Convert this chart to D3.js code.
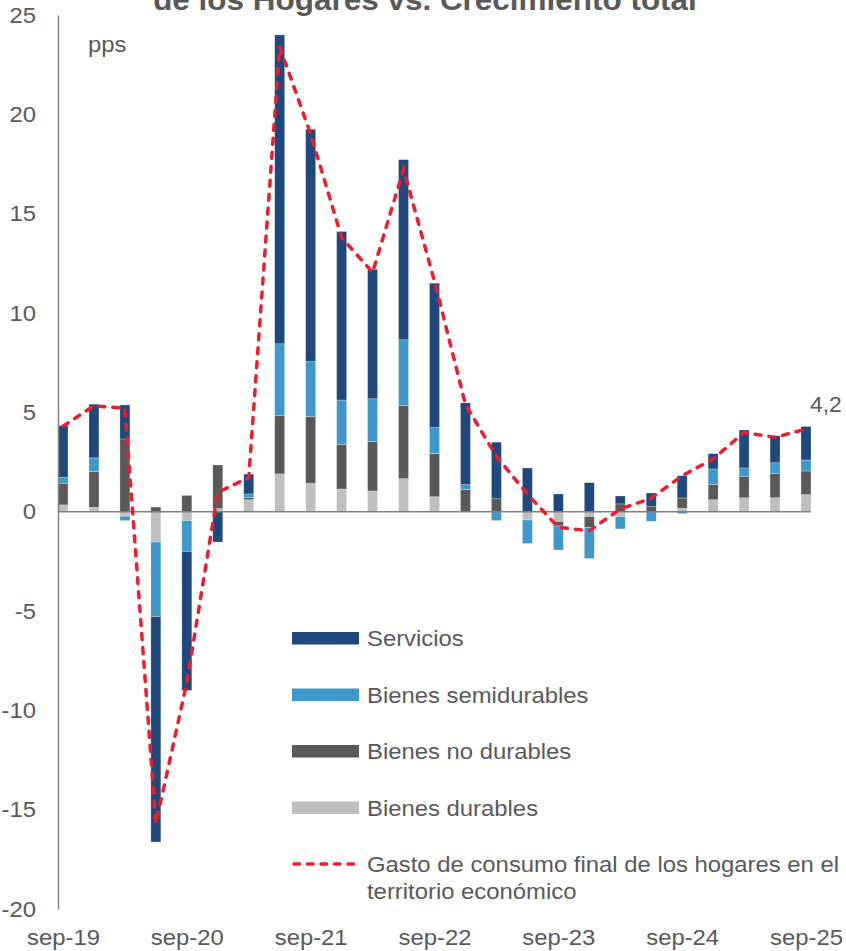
<!DOCTYPE html>
<html>
<head>
<meta charset="utf-8">
<script src="https://cdn.jsdelivr.net/npm/d3@7"></script>
<style>
  html, body { margin: 0; padding: 0; background: #fff; }
  svg { display: block; font-family: "Liberation Sans", Arial, sans-serif; }
</style>
</head>
<body>
<svg id="chart" width="846" height="951"></svg>
<script>

var quarters = ['sep-19','dic-19','mar-20','jun-20','sep-20','dic-20','mar-21','jun-21','sep-21','dic-21',
                'mar-22','jun-22','sep-22','dic-22','mar-23','jun-23','sep-23','dic-23','mar-24','jun-24',
                'sep-24','dic-24','mar-25','jun-25','sep-25'];

var durables    = [0.34, 0.22, -0.23, -1.53, -0.45, 0.15, 0.60, 1.90, 1.43, 1.14, 1.04, 1.66, 0.75,
                   0.00, 0.00, -0.42, -0.49, -0.25, -0.25, 0.00, 0.17, 0.60, 0.70, 0.70, 0.86];
var noDurables  = [1.09, 1.80, 3.66, 0.23, 0.82, 2.20, 0.12, 2.95, 3.37, 2.25, 2.50, 3.67, 2.18,
                   1.12, 0.65, 0.00, -0.23, -0.55, 0.39, 0.25, 0.52, 0.77, 1.06, 1.23, 1.19];
var semidurables= [0.30, 0.69, -0.22, -3.75, -1.55, 0.00, 0.17, 3.60, 2.75, 2.23, 2.14, 3.32, 1.30,
                   0.24, -0.45, -1.18, -1.21, -1.56, -0.62, -0.49, -0.10, 0.78, 0.44, 0.53, 0.55];
var servicios   = [2.60, 2.70, 1.71, -11.35, -7.00, -1.53, 1.00, 15.55, 11.70, 8.48, 6.52, 9.07, 7.27,
                   4.12, 2.85, 2.20, 0.89, 1.46, 0.40, 0.69, 1.12, 0.77, 1.91, 1.36, 1.69];
var gastoTotal  = [4.3, 5.33, 5.2, -15.7, -8.6, 0.97, 1.72, 23.4, 19.0, 13.8, 12.04, 17.24, 11.6,
                   5.4, 2.78, 0.89, -0.79, -0.96, 0.13, 0.68, 1.81, 2.65, 3.99, 3.74, 4.16];

var yTicks = [25, 20, 15, 10, 5, 0, -5, -10, -15, -20];
var xTickLabels = ['sep-19','sep-20','sep-21','sep-22','sep-23','sep-24','sep-25'];

var series = [
  { key: 'durables',     name: 'Bienes durables',     color: '#bfbfbf', values: durables },
  { key: 'noDurables',   name: 'Bienes no durables',  color: '#595959', values: noDurables },
  { key: 'semidurables', name: 'Bienes semidurables', color: '#3e98cc', values: semidurables },
  { key: 'servicios',    name: 'Servicios',           color: '#1f497d', values: servicios }
];

var title = 'de los Hogares vs. Crecimiento total';
var lineName = ['Gasto de consumo final de los hogares en el', 'territorio económico'];
var lineColor = '#ee1c2e',
    textColor = '#595959',
    axisColor = '#808080',
    bar_width = 10,
    stretch = 1.085;

// the source picture is a little wider than tall, so text is widened around its anchor
function widen(sel, sx) {
  sel.attr('transform', function() {
    var t = d3.select(this),
        tx = +t.attr('x') || 0,
        ty = +t.attr('y') || 0;
    return 'translate(' + tx + ',' + ty + ') scale(' + sx + ',1) translate(' + (-tx) + ',' + (-ty) + ')';
  });
}

var svg = d3.select('#chart');

var x = d3.scalePoint().domain(quarters).range([63, 806]),
    y = d3.scaleLinear().domain([-20, 25]).range([909, 15]);

// one row per quarter for d3.stack
var rows = quarters.map(function(q, i) {
  var r = { q: q };
  series.forEach(function(s) { r[s.key] = s.values[i]; });
  return r;
});

var stacked = d3.stack()
  .keys(series.map(function(s) { return s.key; }))
  .offset(d3.stackOffsetDiverging)(rows);

// title (cut off by the top of the frame)
svg.append('text')
  .attr('x', 425).attr('y', 10)
  .attr('text-anchor', 'middle')
  .attr('font-size', 29).attr('font-weight', 'bold')
  .attr('fill', textColor)
  .text(title)
  .call(widen, stretch);

// bars
svg.append('g').selectAll('g')
  .data(stacked)
  .join('g')
    .attr('fill', function(d, i) { return series[i].color; })
  .selectAll('rect')
  .data(function(d) { return d; })
  .join('rect')
    .attr('x', function(d) { return x(d.data.q) - bar_width / 2; })
    .attr('y', function(d) { return y(Math.max(d[0], d[1])); })
    .attr('width', bar_width)
    .attr('height', function(d) { return Math.abs(y(d[0]) - y(d[1])); })
    .attr('stroke', 'rgba(255,255,255,0.45)')
    .attr('stroke-width', 0.6);

// zero line
svg.append('line')
  .attr('x1', 58).attr('x2', x(quarters[quarters.length - 1]) + bar_width / 2)
  .attr('y1', y(0)).attr('y2', y(0))
  .attr('stroke', axisColor).attr('stroke-width', 1.5);

// y axis
var yAxis = d3.axisLeft(y).tickValues(yTicks).tickSize(0).tickPadding(22)
  .tickFormat(function(d) { return d; });

var gy = svg.append('g').attr('transform', 'translate(58,0)').call(yAxis);
gy.select('.domain').attr('stroke', axisColor).attr('stroke-width', 1.5);
gy.selectAll('text')
  .attr('font-size', 22).attr('fill', textColor)
  .attr('font-family', '"Liberation Sans", Arial, sans-serif')
  .call(widen, stretch);

svg.append('text')
  .attr('x', 88).attr('y', 52)
  .attr('font-size', 22).attr('fill', textColor)
  .text('pps')
  .call(widen, stretch);

// x axis labels
var xAxis = d3.axisBottom(x).tickValues(xTickLabels).tickSize(0).tickPadding(0);
var gx = svg.append('g').attr('transform', 'translate(0,929)').call(xAxis);
gx.select('.domain').remove();
gx.selectAll('text')
  .attr('font-size', 22).attr('fill', textColor)
  .attr('font-family', '"Liberation Sans", Arial, sans-serif')
  .call(widen, stretch);

// total line
var line = d3.line()
  .x(function(d, i) { return x(quarters[i]); })
  .y(function(d) { return y(d); });

svg.append('path')
  .datum(gastoTotal)
  .attr('d', line)
  .attr('fill', 'none')
  .attr('stroke', lineColor)
  .attr('stroke-width', 3.5)
  .attr('stroke-linecap', 'round')
  .attr('stroke-dasharray', '6,8');

var last = gastoTotal.length - 1;
svg.append('text')
  .attr('x', x(quarters[last]) + 4).attr('y', y(gastoTotal[last]) - 17)
  .attr('font-size', 22).attr('fill', textColor)
  .text(d3.format('.1f')(gastoTotal[last]).replace('.', ','))
  .call(widen, 1.04);

// legend
var legend = svg.append('g').attr('transform', 'translate(292,638)'),
    legendOrder = series.slice().reverse(),
    row_h = 56.5;

legendOrder.forEach(function(s, i) {
  var g = legend.append('g').attr('transform', 'translate(0,' + (i * row_h) + ')');
  g.append('rect')
    .attr('x', 0).attr('y', -6).attr('width', 67).attr('height', 12.5)
    .attr('fill', s.color);
  g.append('text')
    .attr('x', 75).attr('y', 8)
    .attr('font-size', 22).attr('fill', textColor)
    .text(s.name)
    .call(widen, stretch);
});

var lg = legend.append('g').attr('transform', 'translate(0,' + (4 * row_h) + ')');
lg.append('line')
  .attr('x1', 2).attr('x2', 66).attr('y1', 0).attr('y2', 0)
  .attr('stroke', lineColor).attr('stroke-width', 3.5)
  .attr('stroke-linecap', 'round')
  .attr('stroke-dasharray', '5.5,8');
lg.selectAll('text')
  .data(lineName)
  .join('text')
    .attr('x', 75).attr('y', function(d, i) { return 8 + i * 27; })
    .attr('font-size', 22).attr('fill', textColor)
    .text(function(d) { return d; })
    .call(widen, stretch);

</script>
</body>
</html>
